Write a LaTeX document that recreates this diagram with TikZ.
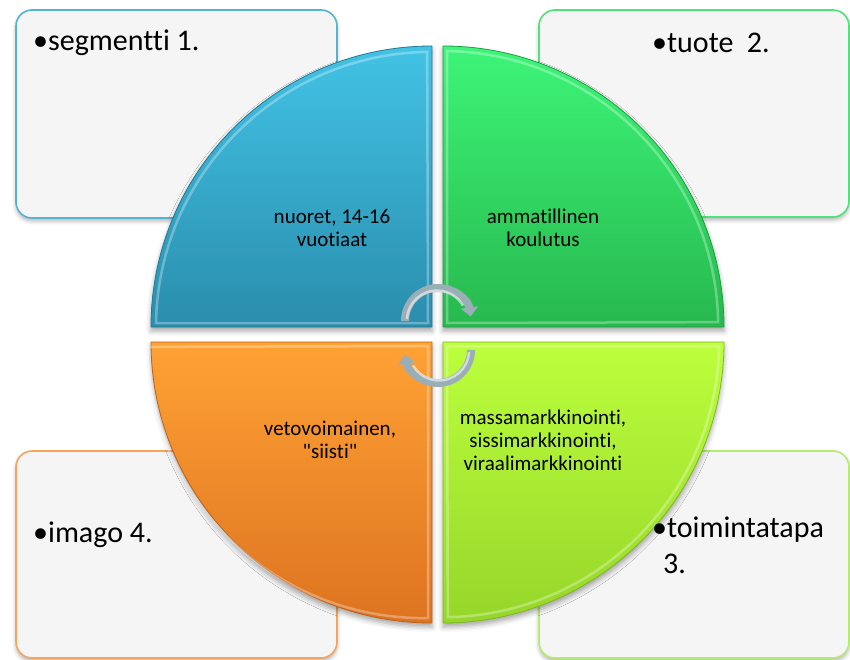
\documentclass[tikz,border=0pt]{standalone}
\usepackage{fontspec}
\setmainfont{Carlito}[Ligatures={TeXOff,CommonOff}]
\usetikzlibrary{shadows.blur,arrows.meta}
\definecolor{qblueT}{HTML}{42C3E5}
\definecolor{qblueB}{HTML}{2A8DAD}
\definecolor{qgreenT}{HTML}{3DF578}
\definecolor{qgreenB}{HTML}{27B84E}
\definecolor{qorangeT}{HTML}{FFA235}
\definecolor{qorangeB}{HTML}{DD7320}
\definecolor{qlimeT}{HTML}{BCFF3C}
\definecolor{qlimeB}{HTML}{96D62A}
\definecolor{bdblue}{HTML}{55B3D0}
\definecolor{bdgreen}{HTML}{50E27A}
\definecolor{bdorange}{HTML}{F7A45A}
\definecolor{bdlime}{HTML}{B3EC70}
\definecolor{boxfill}{HTML}{F5F5F5}
\definecolor{arrowgray}{HTML}{9AAEB8}
\begin{document}
\begin{tikzpicture}[x=1pt,y=-1pt,
  infobox/.style={rounded corners=16pt,fill=boxfill,line width=1.6pt,
    blur shadow={shadow xshift=0pt,shadow yshift=-3pt,shadow blur radius=4pt,shadow opacity=30}},
  bigtext/.style={font=\fontsize{30}{36}\selectfont,inner sep=0pt,align=left},
  quadtext/.style={font=\fontsize{21}{23}\selectfont,inner sep=0pt,align=center},
  quad/.style={line width=0.8pt,
    blur shadow={shadow xshift=0pt,shadow yshift=-4pt,shadow blur radius=5pt,shadow opacity=35}},
  bevel/.style={draw=white,draw opacity=0.3,line width=2.5pt},
  cyc/.style={line width=8pt,draw=arrowgray,-{Triangle[length=9pt,width=17pt]}},
  cychi/.style={line width=2.5pt,draw=white,draw opacity=0.55}
]
\useasboundingbox (0,0) rectangle (850,659);

% info boxes
\draw[infobox,draw=bdblue]   (16,10)  rectangle (337,218);
\draw[infobox,draw=bdgreen]  (539,10) rectangle (849,217);
\draw[infobox,draw=bdorange] (16,451) rectangle (337,658);
\draw[infobox,draw=bdlime]   (539,451) rectangle (849,658);

% quadrants
\path[quad,draw=qblueB!85!black,top color=qblueT,bottom color=qblueB]
  (432,327) -- (151,327) arc[start angle=180,end angle=270,radius=281] -- cycle;
\path[quad,draw=qgreenB!85!black,top color=qgreenT,bottom color=qgreenB]
  (443,327) -- (443,46) arc[start angle=270,end angle=360,radius=281] -- cycle;
\path[quad,draw=qorangeB!85!black,top color=qorangeT,bottom color=qorangeB]
  (432,342) -- (432,623) arc[start angle=90,end angle=180,radius=281] -- cycle;
\path[quad,draw=qlimeB!85!black,top color=qlimeT,bottom color=qlimeB]
  (443,342) -- (724,342) arc[start angle=0,end angle=90,radius=281] -- cycle;

% bevel highlights
\draw[bevel] (428,323) -- (156,323) arc[start angle=181,end angle=269,radius=276] -- cycle;
\draw[bevel] (447,323) -- (447,51) arc[start angle=271,end angle=359,radius=276] -- cycle;
\draw[bevel] (428,346) -- (428,618) arc[start angle=89,end angle=179,radius=276] -- cycle;
\draw[bevel] (447,346) -- (719,346) arc[start angle=1,end angle=89,radius=276] -- cycle;

% quadrant labels
\node[quadtext] (q1) at (332,228) {nuoret, 14-16\\vuotiaat};
\node[quadtext] (q2) at (543,228) {ammatillinen\\koulutus};
\node[quadtext] (q4) at (330,440) {vetovoimainen,\\"siisti"};
\node[quadtext] (q3) at (543,440) {massamarkkinointi,\\sissimarkkinointi,\\viraalimarkkinointi};

% box texts
\node[bigtext,anchor=west] (t1) at (33,43) {•segmentti 1.};
\node[bigtext,anchor=west] (t2) at (652,43) {•tuote\ \ 2.};
\node[bigtext,anchor=west] (t4) at (33,535) {•imago 4.};
\node[bigtext,anchor=north west] (t3) at (652,517) {•toimintatapa\\\hspace*{11pt}3.};

% cycle arrows
\coordinate (a1s) at (405,321);
\coordinate (a2s) at (471,350);
\draw[cyc] (a1s) arc[start angle=180,end angle=352,radius=33];
\draw[cychi] (407,319) arc[start angle=183,end angle=330,radius=30];
\draw[cyc] (a2s) arc[start angle=0,end angle=172,radius=33];
\draw[cychi] (469,352) arc[start angle=3,end angle=150,radius=30];
\end{tikzpicture}
\end{document}
